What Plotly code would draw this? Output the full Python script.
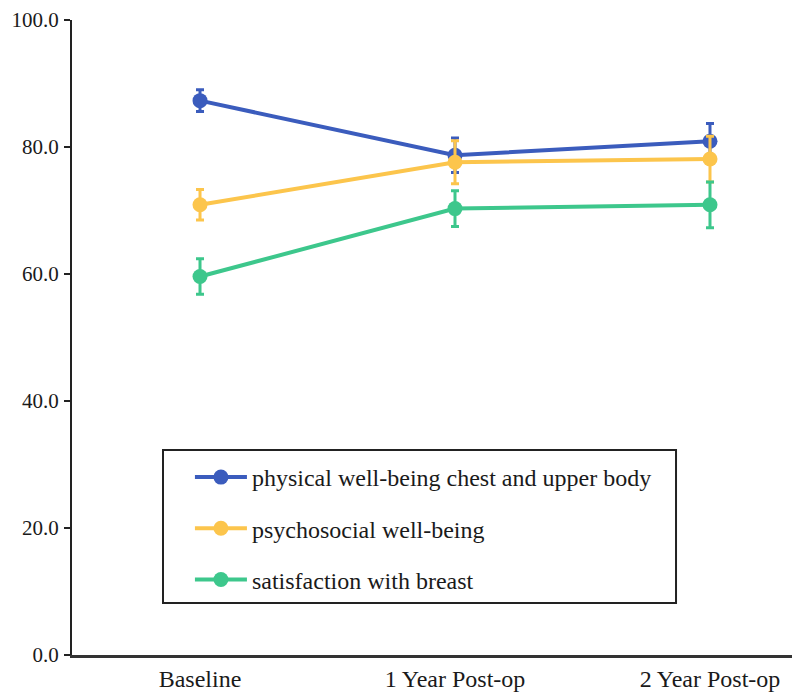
import plotly.graph_objects as go

categories = ["Baseline", "1 Year Post-op", "2 Year Post-op"]
x_pos = [0, 1, 2]

series_names = ["physical well-being chest and upper body",
                "psychosocial well-being",
                "satisfaction with breast"]
physical = [87.3, 78.7, 80.9]
physical_err = [1.7, 2.7, 2.8]
psychosocial = [70.9, 77.6, 78.1]
psychosocial_err = [2.4, 3.4, 3.6]
satisfaction = [59.6, 70.3, 70.9]
satisfaction_err = [2.8, 2.8, 3.6]

y_ticks = [0, 20, 40, 60, 80, 100]

colors = ["#3b5cbd", "#fcc54c", "#3dc78c"]
values = [physical, psychosocial, satisfaction]
errors = [physical_err, psychosocial_err, satisfaction_err]

fig = go.Figure()
for i, (name, vals, errs, col) in enumerate(zip(series_names, values, errors, colors)):
    fig.add_trace(go.Scatter(
        x=x_pos, y=vals, name=name, mode="lines+markers",
        line=dict(color=col, width=4),
        marker=dict(color=col, size=15),
        error_y=dict(type="data", array=errs, visible=True, color=col, thickness=3, width=4),
        legendgroup=f"g{i}",
    ))

font_family = "Liberation Serif, Times New Roman, serif"
txt = "#1a1a1a"

fig.update_layout(
    width=800, height=695,
    margin=dict(l=64, r=8, t=12, b=48),
    paper_bgcolor="white", plot_bgcolor="white",
    font=dict(family=font_family, size=24, color=txt),
    showlegend=True,
    legend=dict(
        x=0.162, y=0.315, xanchor="left", yanchor="top",
        borderwidth=0, bgcolor="rgba(0,0,0,0)",
        font=dict(family=font_family, size=24, color=txt),
        traceorder="grouped", tracegroupgap=17,
        itemwidth=52,
    ),
    shapes=[dict(type="rect", xref="paper", yref="paper",
                 x0=0.125, x1=0.8297, y0=0.0819, y1=0.3228,
                 line=dict(color="#222222", width=2), layer="above")],
    xaxis=dict(
        range=[-0.502, 2.353], tickmode="array", tickvals=x_pos, ticktext=categories,
        showline=True, linecolor="#333333", linewidth=2.5, showgrid=False, zeroline=False,
        ticks="", tickfont=dict(size=24), automargin=False,
    ),
    yaxis=dict(
        range=[0, 100], tickmode="array", tickvals=y_ticks,
        ticktext=[f"{v:.1f}" for v in y_ticks],
        showline=True, linecolor="#222222", linewidth=2, showgrid=False, zeroline=False,
        ticks="outside", ticklen=6, tickwidth=2, tickcolor="#222222",
        tickfont=dict(size=21), ticklabelstandoff=1, ticklabeloverflow="allow",
        automargin=False,
    ),
)

fig.write_html("out.html")
